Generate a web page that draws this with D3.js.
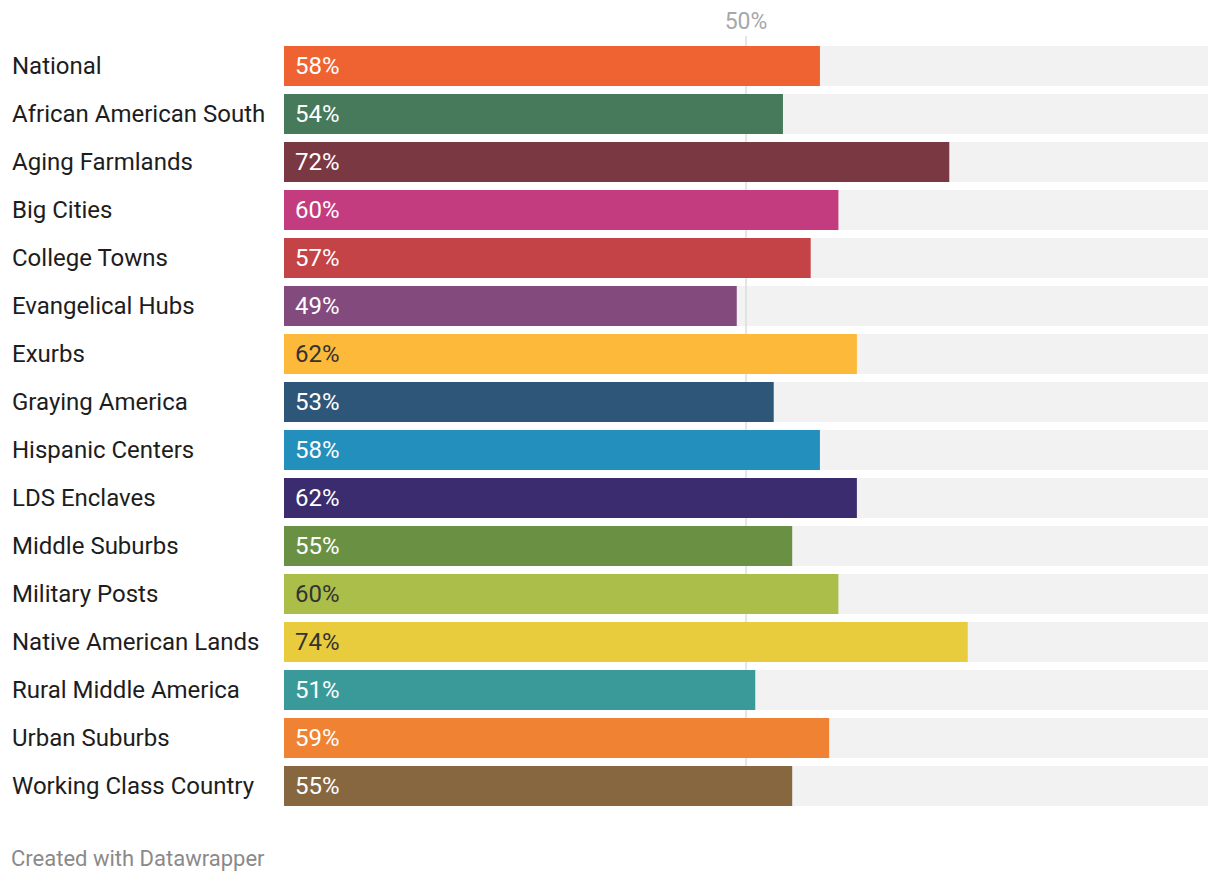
<!DOCTYPE html>
<html><head><meta charset="utf-8">
<script src="https://cdn.jsdelivr.net/npm/d3@7"></script>
<style>
html,body{margin:0;padding:0;background:#fff;}
svg{display:block;font-family:Roboto,"Noto Sans",sans-serif;}
</style></head>
<body>
<svg id="chart" width="1220" height="882"></svg>
<script>
const categories = ["National","African American South","Aging Farmlands","Big Cities","College Towns","Evangelical Hubs","Exurbs","Graying America","Hispanic Centers","LDS Enclaves","Middle Suburbs","Military Posts","Native American Lands","Rural Middle America","Urban Suburbs","Working Class Country"];
const values = [58,54,72,60,57,49,62,53,58,62,55,60,74,51,59,55];
const colors = ["#ee6331","#467a5a","#7a3843","#c43c80","#c44346","#834a7e","#fdb93a","#2e5679","#238fbd","#3a2c6e","#6a9143","#acbe4a","#e8cc3d","#3a9a9a","#ef8333","#86673f"];
const darkLabel = [false,false,false,false,false,false,true,false,false,false,false,true,true,false,false,false];
const tickValues = [50];

const svg = d3.select("#chart");
const x = d3.scaleLinear().domain([0,100]).range([284,1208]);
const y = d3.scaleBand().domain(categories).range([46,806]).paddingInner(8/48).paddingOuter(0);

// background bars
svg.append("g").selectAll("rect").data(categories).join("rect")
  .attr("x", x(0)).attr("y", d=>y(d)).attr("width", x(100)-x(0)).attr("height", y.bandwidth())
  .attr("fill","#f2f2f2");

// gridline
svg.append("g").selectAll("line").data(tickValues).join("line")
  .attr("x1", d=>x(d)).attr("x2", d=>x(d)).attr("y1", 36).attr("y2", 806)
  .attr("stroke","#dcdcdc").attr("stroke-width",1.5);

svg.append("g").selectAll("text").data(tickValues).join("text")
  .attr("x", d=>x(d)).attr("y", 29).attr("text-anchor","middle")
  .attr("font-size",23).attr("fill","#a8a8a8").text(d=>d+"%");

// value bars
svg.append("g").selectAll("rect").data(categories).join("rect")
  .attr("x", x(0)).attr("y", d=>y(d)).attr("width", (d,i)=>x(values[i])-x(0)).attr("height", y.bandwidth())
  .attr("fill", (d,i)=>colors[i]);

// category labels
svg.append("g").selectAll("text").data(categories).join("text")
  .attr("x", 12).attr("y", d=>y(d)+y.bandwidth()/2).attr("dy","0.35em")
  .attr("font-size",24).attr("fill","#1d1d1d").text(d=>d);

// value labels
svg.append("g").selectAll("text").data(categories).join("text")
  .attr("x", x(0)+11).attr("y", d=>y(d)+y.bandwidth()/2).attr("dy","0.35em")
  .attr("font-size",24).attr("fill",(d,i)=>darkLabel[i]?"#333333":"#ffffff")
  .text((d,i)=>values[i]+"%");

svg.append("text").attr("x",11).attr("y",866).attr("font-size",22).attr("fill","#8a8a8a")
  .text("Created with Datawrapper");
</script>
</body></html>
